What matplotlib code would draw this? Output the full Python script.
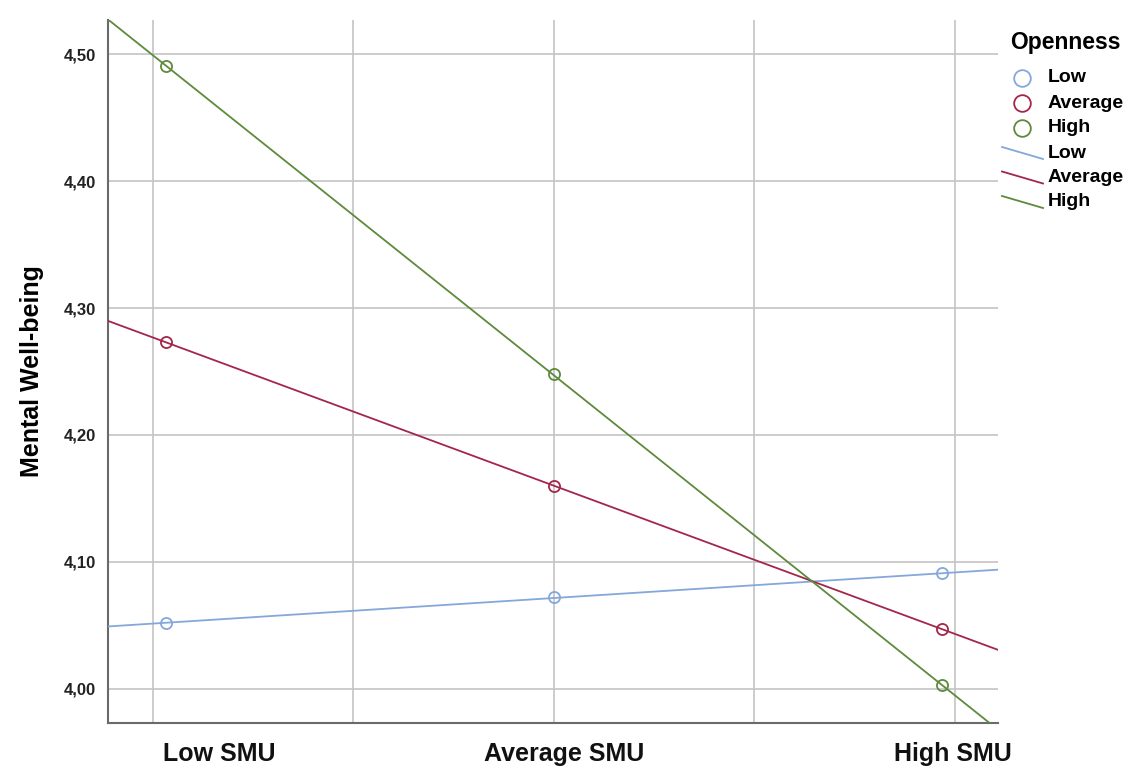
import numpy as np
import matplotlib
matplotlib.use("Agg")
import matplotlib.pyplot as plt
from matplotlib.lines import Line2D

plt.rcParams['font.family'] = ['Liberation Sans', 'DejaVu Sans']

# x positions of the three SMU levels (gridlines sit at -2..2)
smu_levels = [-1.935, 0.0, 1.935]
smu_labels = ['Low SMU', 'Average SMU', 'High SMU']
label_pos = [-1.67, 0.05, 1.99]

openness = ['Low', 'Average', 'High']
wellbeing_low = [4.052, 4.072, 4.091]
wellbeing_avg = [4.273, 4.160, 4.047]
wellbeing_high = [4.491, 4.248, 4.003]
colors = ['#84a8da', '#a3264b', '#5d8a3c']

yticks = [4.0, 4.1, 4.2, 4.3, 4.4, 4.5]
xgrid = [-2, -1, 0, 1, 2]

W, H = 1132, 766
fig = plt.figure(figsize=(W / 100, H / 100), dpi=100)
ax = fig.add_axes([108 / W, 1 - 723 / H, 890 / W, 703 / H])

series = [wellbeing_low, wellbeing_avg, wellbeing_high]
for vals, c in zip(series, colors):
    # regression line through the fitted points, across the whole plot
    ax.axline((smu_levels[0], vals[0]), (smu_levels[-1], vals[-1]), color=c, lw=1.3, zorder=3)
    ax.plot(smu_levels, vals, 'o', ms=8, mfc='none', mec=c, mew=1.3, zorder=4)

ax.set_xlim(-2.224, 2.215)
ax.set_ylim(3.973, 4.527)
ax.set_xticks(xgrid)
ax.set_xticklabels([])
ax.set_yticks(yticks)
ax.set_yticklabels([('%.2f' % v).replace('.', ',') for v in yticks],
                   fontsize=12, fontweight='bold', color='#222222')
ax.tick_params(length=0, pad=9)
ax.grid(True, color='#c4c4c4', lw=1.2)
ax.set_axisbelow(True)
for s in ['top', 'right']:
    ax.spines[s].set_visible(False)
for s in ['left', 'bottom']:
    ax.spines[s].set_color('#6a6a6a')
    ax.spines[s].set_linewidth(1.5)

ax.set_ylabel('Mental Well-being', fontsize=18, fontweight='bold', labelpad=14)

for lab, xp in zip(smu_labels, label_pos):
    ax.text(xp, -0.044, lab, transform=ax.get_xaxis_transform(), ha='center', va='center',
            fontsize=18, fontweight='bold', color='#111111')


# legend drawn by hand in pixel positions
def fx(px):
    return px / W


def fy(py):
    return 1 - py / H


fig.text(fx(1010), fy(43), 'Openness', fontsize=16.5, fontweight='bold', va='center', ha='left')
for i, (name, c) in enumerate(zip(openness, colors)):
    y = 78 + 25 * i
    fig.add_artist(Line2D([fx(1022)], [fy(y)], marker='o', ms=12, mfc='none', mec=c, mew=1.3,
                          transform=fig.transFigure))
    fig.text(fx(1048), fy(y), name, fontsize=14, fontweight='bold', va='center', ha='left')
for i, (name, c) in enumerate(zip(openness, colors)):
    y = 153 + 24.5 * i
    fig.add_artist(Line2D([fx(1002), fx(1043)], [fy(y - 6), fy(y + 6)], color=c, lw=1.3,
                          transform=fig.transFigure))
    fig.text(fx(1048), fy(y), name, fontsize=14, fontweight='bold', va='center', ha='left')

fig.savefig('out.png', dpi=100)
